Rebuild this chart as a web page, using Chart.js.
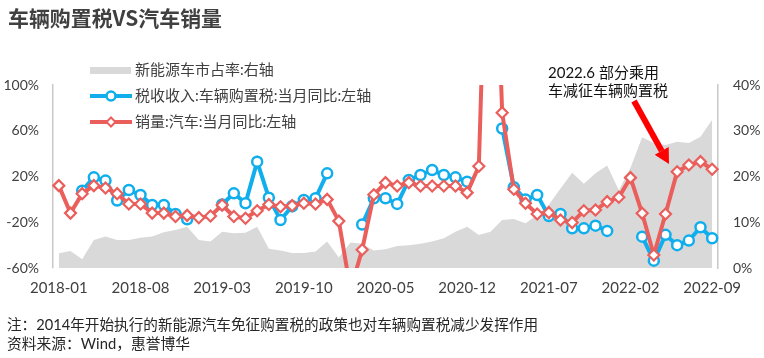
<!DOCTYPE html>
<html>
<head>
<meta charset="utf-8">
<script src="https://cdn.jsdelivr.net/npm/chart.js@4.4.0/dist/chart.umd.min.js"></script>
<style>
  body { margin: 0; background: #fff; }
  #wrap { width: 764px; height: 358px; position: relative; }
</style>
</head>
<body>
<div id="wrap"><canvas id="myChart"></canvas></div>
<script>
// months 2018-01 .. 2022-09
const months = [];
for (let y = 2018; y <= 2022; y++) {
  for (let m = 1; m <= 12; m++) {
    if (y === 2022 && m > 9) break;
    months.push(y + "-" + String(m).padStart(2, "0"));
  }
}

// 销量:汽车:当月同比 (%), left axis
const salesYoy = [
  12, -12, 5, 12, 10, 5, -4, -4, -12, -12, -15, -14,
  -16, -14.5, -5, -15, -16.5, -10, -4.5, -6.5, -5.5, -3.4, -4, 0,
  -19, -79, -44, 4, 14.6, 11.7, 14.6, 11.7, 11.7, 11.7, 11.7, 5.9,
  29, 365, 75.8, 8.8, -3.4, -12.8, -11.6, -18, -20.3, -9.9, -9.3, -2,
  1.8, 19, -12.2, -48.6, -12.8, 24.2, 30, 33, 26.3
];

// 税收收入:车辆购置税:当月同比 (%), left axis (Jan/Feb not reported)
const taxYoy = [
  null, null, 7.6, 19.3, 16.4, -1, 8.2, 3.8, -4.9, -4.9, -12.8, -17.4,
  null, null, -4.5, 5.3, -3.4, 33, 1.5, -18, -6, -0.5, 1, 22.8,
  null, null, -22, 1, 1, -4, 17, 21.3, 25.7, 21.3, 19.3, 15.5,
  null, null, 62, 10.6, 0, 3.8, -14.5, -12.8, -25.3, -25.3, -23, -27.6,
  null, null, -32.6, -53.6, -31, -40, -36, -24.4, -34
];

// 新能源车市占率 (%), right axis
const nevShare = [
  3.2, 3.7, 1.9, 6.1, 6.9, 6.1, 6.1, 6.6, 6.9, 7.8, 8.3, 9.0,
  6.1, 5.8, 7.9, 7.6, 7.7, 9.0, 4.2, 3.8, 3.3, 3.3, 3.6, 5.8,
  2.3, 5.6, 5.3, 3.8, 4.1, 4.8, 5.0, 5.3, 5.8, 6.5, 7.9, 9.0,
  7.2, 7.9, 10.5, 10.7, 9.8, 11.6, 13.8, 17.4, 20.8, 18.4, 20.7, 22.4,
  17.0, 21.9, 28.6, 27.3, 26.9, 27.6, 27.3, 28.7, 32.4
];

const RED = "#ea5f5c";
const BLUE = "#10aeec";
const GRAY = "#d9d9d9";
const TXT = "#404040";

const extras = {
  id: "extras",
  afterDraw(chart) {
    const c = chart.ctx;
    c.save();
    // title
    c.fillStyle = TXT;
    c.textBaseline = "middle";
    c.textAlign = "left";
    c.font = "bold 21px 'Noto Sans CJK SC', Lato";
    c.fillText("车辆购置税VS汽车销量", 8, 18, 214);

    // legend
    c.font = "15px Lato, 'Noto Sans CJK SC'";
    c.fillStyle = GRAY;
    c.fillRect(90, 67, 41, 7);
    c.fillStyle = TXT;
    c.fillText("新能源车市占率:右轴", 135, 70);

    c.lineWidth = 4;
    c.strokeStyle = BLUE;
    c.beginPath(); c.moveTo(90, 96); c.lineTo(132, 96); c.stroke();
    c.fillStyle = "#fff";
    c.lineWidth = 2.5;
    c.beginPath(); c.arc(111, 96, 4.5, 0, Math.PI * 2); c.fill(); c.stroke();
    c.fillStyle = TXT;
    c.fillText("税收收入:车辆购置税:当月同比:左轴", 135, 96);

    c.lineWidth = 4;
    c.strokeStyle = RED;
    c.beginPath(); c.moveTo(90, 122); c.lineTo(132, 122); c.stroke();
    c.fillStyle = "#fff";
    c.lineWidth = 2;
    c.beginPath();
    c.moveTo(111, 117.5); c.lineTo(115.5, 122); c.lineTo(111, 126.5); c.lineTo(106.5, 122);
    c.closePath(); c.fill(); c.stroke();
    c.fillStyle = TXT;
    c.fillText("销量:汽车:当月同比:左轴", 135, 122);

    // annotation
    c.fillStyle = "#111";
    c.font = "15px Lato, 'Noto Sans CJK SC'";
    c.fillText("2022.6 部分乘用", 548, 73);
    c.fillText("车减征车辆购置税", 548, 91);

    // arrow
    const x0 = 634, y0 = 101, x1 = 669, y1 = 164;
    const ang = Math.atan2(y1 - y0, x1 - x0);
    const hl = 15, hw = 8;
    const bx = x1 - hl * Math.cos(ang), by = y1 - hl * Math.sin(ang);
    c.strokeStyle = "#ff0000";
    c.fillStyle = "#ff0000";
    c.lineWidth = 6;
    c.beginPath(); c.moveTo(x0, y0); c.lineTo(bx, by); c.stroke();
    c.beginPath();
    c.moveTo(x1, y1);
    c.lineTo(bx + hw * Math.sin(ang), by - hw * Math.cos(ang));
    c.lineTo(bx - hw * Math.sin(ang), by + hw * Math.cos(ang));
    c.closePath(); c.fill();

    // notes
    c.fillStyle = "#262626";
    c.font = "15px Lato, 'Noto Sans CJK SC'";
    c.fillText("注：2014年开始执行的新能源汽车免征购置税的政策也对车辆购置税减少发挥作用", 7, 325, 531);
    c.fillText("资料来源：Wind，惠誉博华", 7, 344.5, 183);
    c.restore();
  }
};

const ctx = document.getElementById("myChart");
const myChart = new Chart(ctx, {
  type: "line",
  data: {
    labels: months,
    datasets: [
      {
        label: "销量:汽车:当月同比:左轴",
        data: salesYoy,
        yAxisID: "y",
        borderColor: RED,
        borderWidth: 4,
        pointStyle: "rectRot",
        pointRadius: 5.5,
        pointBorderWidth: 2.2,
        pointBackgroundColor: "#fff",
        pointBorderColor: RED,
        tension: 0,
      },
      {
        label: "税收收入:车辆购置税:当月同比:左轴",
        data: taxYoy,
        yAxisID: "y",
        borderColor: BLUE,
        borderWidth: 4,
        pointStyle: "circle",
        pointRadius: 5,
        pointBorderWidth: 2.5,
        pointBackgroundColor: "#fff",
        pointBorderColor: BLUE,
        spanGaps: false,
        tension: 0,
      },
      {
        label: "新能源车市占率:右轴",
        data: nevShare,
        yAxisID: "y1",
        borderWidth: 0,
        pointRadius: 0,
        backgroundColor: GRAY,
        fill: "start",
        tension: 0,
      },
    ],
  },
  options: {
    responsive: true,
    maintainAspectRatio: false,
    animation: false,
    layout: { padding: { left: 0, right: 0, top: 85, bottom: 60 } },
    plugins: {
      legend: { display: false },
      tooltip: { enabled: false },
    },
    scales: {
      x: {
        offset: true,
        grid: { display: false, drawTicks: false },
        border: { display: false },
        ticks: {
          autoSkip: false,
          maxRotation: 0,
          padding: 11,
          color: TXT,
          font: { family: "Lato", size: 15 },
          callback: function (v, i) {
            return i % 7 === 0 ? months[i] : "";
          },
        },
        afterFit: (s) => { s.height = 30; },
      },
      y: {
        position: "left",
        min: -60,
        max: 100,
        ticks: {
          stepSize: 40,
          padding: 14,
          color: TXT,
          font: { family: "Lato", size: 14 },
          callback: (v) => v + "%",
        },
        grid: {
          drawTicks: false,
          color: (c) => (c.tick && c.tick.value === 0 ? "#bfbfbf" : "rgba(0,0,0,0)"),
          lineWidth: 1.2,
        },
        border: { display: true, color: "#c8c8c8", width: 1.5 },
        afterFit: (s) => { s.width = 53; },
      },
      y1: {
        position: "right",
        min: 0,
        max: 40,
        ticks: {
          stepSize: 10,
          padding: 15,
          color: TXT,
          font: { family: "Lato", size: 14 },
          callback: (v) => v + "%",
        },
        grid: { display: false, drawTicks: false },
        border: { display: true, color: "#c8c8c8", width: 1.5 },
        afterFit: (s) => { s.width = 46; },
      },
    },
  },
  plugins: [extras],
});
</script>
</body>
</html>
